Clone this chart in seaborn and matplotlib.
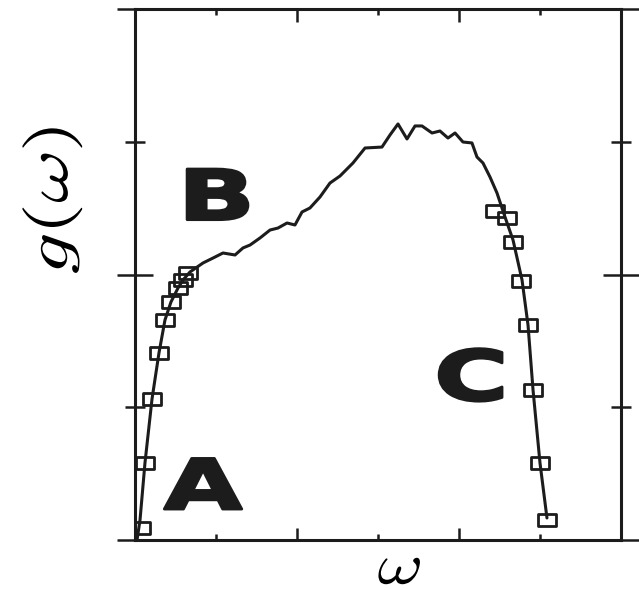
import numpy as np
import pandas as pd
import matplotlib
matplotlib.use("Agg")
import matplotlib.pyplot as plt
from matplotlib.path import Path
from matplotlib.transforms import Affine2D
from matplotlib.patheffects import AbstractPathEffect
from matplotlib.ticker import MultipleLocator, NullFormatter
import seaborn as sns

# ---- data (axis units: omega 0..6, g 0..4) ----
line_omega = [0.025, 0.062, 0.123, 0.210, 0.296, 0.370, 0.444, 0.531, 0.593, 0.679,
              0.840, 0.963, 1.086, 1.235, 1.333, 1.420, 1.543, 1.667, 1.765, 1.877,
              1.975, 2.062, 2.160, 2.284, 2.407, 2.531, 2.691, 2.840, 3.049, 3.148,
              3.247, 3.358, 3.457, 3.543, 3.667, 3.765, 3.864, 3.951, 4.049, 4.160,
              4.222, 4.296, 4.383, 4.469, 4.568, 4.667, 4.778, 4.852, 4.914, 5.000,
              5.086]
line_g = [0.000, 0.151, 0.580, 1.062, 1.409, 1.657, 1.793, 1.898, 1.959, 2.019,
          2.087, 2.124, 2.162, 2.147, 2.200, 2.222, 2.275, 2.335, 2.350, 2.388,
          2.373, 2.471, 2.501, 2.584, 2.689, 2.742, 2.840, 2.953, 2.960, 3.051,
          3.134, 3.021, 3.119, 3.119, 3.066, 3.081, 3.028, 3.066, 2.998, 2.991,
          2.885, 2.840, 2.734, 2.614, 2.433, 2.260, 1.959, 1.620, 1.130, 0.580,
          0.166]

sq_omega = [0.074, 0.123, 0.210, 0.296, 0.370, 0.444, 0.531, 0.593, 0.654,
            4.444, 4.593, 4.667, 4.765, 4.852, 4.914, 5.000, 5.086]
sq_g = [0.090, 0.580, 1.062, 1.409, 1.657, 1.793, 1.898, 1.959, 2.011,
        2.478, 2.426, 2.245, 1.951, 1.620, 1.130, 0.580, 0.151]

region_labels = ["A", "B", "C"]
region_omega = [0.84, 1.01, 4.15]
region_g = [0.38, 2.56, 1.20]

line_df = pd.DataFrame({"omega": line_omega, "g": line_g})
sq_df = pd.DataFrame({"omega": sq_omega, "g": sq_g})


class Stretch(AbstractPathEffect):
    """Draw text glyphs scaled about their own centre (optionally emboldened)."""

    def __init__(self, sx=1.0, sy=1.0, stroke=0.0):
        super().__init__()
        self.sx, self.sy, self.stroke = sx, sy, stroke

    def draw_path(self, renderer, gc, tpath, affine, rgbFace=None):
        ext = tpath.get_extents()
        cx, cy = (ext.x0 + ext.x1) / 2, (ext.y0 + ext.y1) / 2
        pre = Affine2D().translate(-cx, -cy).scale(self.sx, self.sy).translate(cx, cy)
        gc0 = renderer.new_gc()
        gc0.copy_properties(gc)
        if self.stroke > 0 and rgbFace is not None:
            gc0.set_linewidth(self.stroke)
            gc0.set_foreground(rgbFace)
            gc0.set_joinstyle("round")
        else:
            gc0.set_linewidth(0)
        renderer.draw_path(gc0, tpath, pre + affine, rgbFace)
        gc0.restore()


sns.set_theme(style="white")
plt.rcParams["mathtext.fontset"] = "cm"
plt.rcParams["font.family"] = ["DejaVu Sans"]

fig = plt.figure(figsize=(6.39, 5.90), dpi=100)
ax = fig.add_axes([135 / 639, 50 / 590, 486 / 639, 531 / 590])

ink = "#1c1c1c"
sns.lineplot(data=line_df, x="omega", y="g", ax=ax, sort=False, estimator=None,
             color=ink, linewidth=2.2)

rect = Path([(-1.5, -1.0), (1.5, -1.0), (1.5, 1.0), (-1.5, 1.0), (-1.5, -1.0)],
            [Path.MOVETO, Path.LINETO, Path.LINETO, Path.LINETO, Path.CLOSEPOLY])
sns.scatterplot(data=sq_df, x="omega", y="g", ax=ax, marker=rect, s=13 ** 2,
                facecolor="none", edgecolor=ink, linewidth=2.0, zorder=3)

for lab, xo, yo in zip(region_labels, region_omega, region_g):
    ax.text(xo, yo, lab, ha="center", va="center", fontsize=50,
            fontweight="bold", color=ink, family=["DejaVu Sans"],
            path_effects=[Stretch(sx=1.46, sy=1.0, stroke=2.0)])

ax.set_xlim(0, 6)
ax.set_ylim(0, 4)

ax.xaxis.set_major_locator(MultipleLocator(2))
ax.xaxis.set_minor_locator(MultipleLocator(1))
ax.yaxis.set_major_locator(MultipleLocator(2))
ax.yaxis.set_minor_locator(MultipleLocator(1))
for axis in (ax.xaxis, ax.yaxis):
    axis.set_major_formatter(NullFormatter())
    axis.set_minor_formatter(NullFormatter())

ax.tick_params(axis="x", which="both", direction="in", top=True, bottom=True,
               color=ink, width=1.8)
ax.tick_params(axis="x", which="major", length=9)
ax.tick_params(axis="x", which="minor", length=4.5)
ax.tick_params(axis="y", which="both", direction="inout", left=True, right=True,
               color=ink, width=1.8)
ax.tick_params(axis="y", which="major", length=26)
ax.tick_params(axis="y", which="minor", length=14)

for sp in ax.spines.values():
    sp.set_visible(True)
    sp.set_color(ink)
    sp.set_linewidth(2.2)

ax.set_xlabel(r"$\omega$", fontsize=32, color="black",
              path_effects=[Stretch(sx=1.58, sy=1.31)])
ax.set_ylabel(r"$g(\omega)$", fontsize=50, color="black",
              path_effects=[Stretch(sx=1.18, sy=0.86)])
ax.xaxis.set_label_coords(0.545, -0.013)
ax.yaxis.set_label_coords(-0.095, 0.64)

fig.savefig("out.png", dpi=100, facecolor="white")
